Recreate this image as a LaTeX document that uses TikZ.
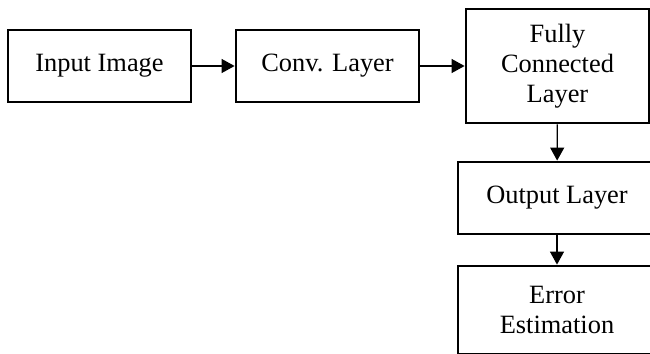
\documentclass[tikz,border=0pt]{standalone}
\usepackage{fontspec}
\setmainfont{Liberation Serif}
\usepackage{tikz}
\usetikzlibrary{arrows.meta}

\begin{document}
\begin{tikzpicture}[x=0.5pt,y=-0.5pt,font=\fontsize{13.2}{15}\selectfont]
    \tikzstyle{layer box}=[draw,line width=1.4pt,align=center,inner sep=0,minimum width=91.5pt,minimum height=36pt]
    \tikzstyle{flow}=[line width=0.6pt,-{Triangle[length=6.5pt,width=7pt]}]
    \useasboundingbox (0,0) rectangle (650,354);

    \node(input)[layer box] at (99.5,66){Input Image};
    \node(conv)[layer box] at (327.5,66){Conv. Layer};
    \node(fc)[layer box,minimum height=57pt] at (557.5,66){Fully\\Connected\\Layer};
    \node(output)[layer box,minimum width=99pt] at (557,198){Output Layer};
    \node(error)[layer box,minimum width=99pt,minimum height=44pt] at (557,310){Error\\Estimation};

    \draw[flow] (input) -- (conv);
    \draw[flow] (conv) -- (fc);
    \draw[flow] (fc) -- (output);
    \draw[flow] (output) -- (error);
\end{tikzpicture}
\end{document}
